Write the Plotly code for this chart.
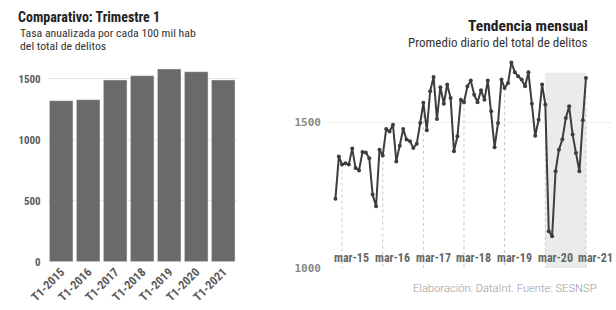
import pandas as pd
import plotly.graph_objects as go

# ---- Data: bar chart (Q1 annualized rate per 100k) ----
bar_categories = ["T1-2015", "T1-2016", "T1-2017", "T1-2018", "T1-2019", "T1-2020", "T1-2021"]
bar_values = [1322, 1330, 1492, 1527, 1582, 1560, 1492]
bar_ticks = [0, 500, 1000, 1500]

# ---- Data: monthly trend (daily average of total crimes) ----
months = pd.date_range("2015-01-01", "2021-03-01", freq="MS")
daily_avg = [
    1238, 1383, 1355, 1360, 1355, 1410, 1343, 1335, 1398, 1397, 1377, 1252,
    1212, 1406, 1386, 1477, 1469, 1492, 1366, 1420, 1477, 1441, 1435, 1412,
    1427, 1498, 1567, 1473, 1607, 1656, 1512, 1621, 1564, 1630, 1584, 1401,
    1452, 1578, 1569, 1624, 1644, 1595, 1569, 1610, 1578, 1644, 1538, 1415,
    1498, 1647, 1618, 1635, 1706, 1672, 1658, 1647, 1624, 1672, 1564, 1454,
    1509, 1630, 1561, 1126, 1109, 1332, 1406, 1441, 1515, 1555, 1458, 1395,
    1332, 1507, 1652,
]
line_ticks = [1000, 1500]
march_labels = ["mar-15", "mar-16", "mar-17", "mar-18", "mar-19", "mar-20", "mar-21"]
shade_start, shade_end, shade_top = "2020-03-01", "2021-03-01", 1670

FONT = "Roboto Condensed, Liberation Sans Narrow, DejaVu Sans Condensed, Roboto, sans-serif"

fig = go.Figure()

fig.add_trace(go.Bar(
    x=bar_categories, y=bar_values, marker_color="#6a6a6a",
    xaxis="x", yaxis="y", showlegend=False,
))

# drop lines at each March
march_idx = [i for i, d in enumerate(months) if d.month == 3]
march_dates = [months[i] for i in march_idx]
dx, dy = [], []
for i in march_idx:
    dx += [months[i], months[i], None]
    dy += [daily_avg[i], line_ticks[0], None]
fig.add_trace(go.Scatter(
    x=dx, y=dy, mode="lines", line=dict(color="#c8c8c8", width=1, dash="dot"),
    xaxis="x2", yaxis="y2", showlegend=False, hoverinfo="skip",
))

fig.add_trace(go.Scatter(
    x=months, y=daily_avg, mode="lines+markers",
    line=dict(color="#3d3d3d", width=2), marker=dict(size=4, color="#3d3d3d"),
    xaxis="x2", yaxis="y2", showlegend=False, cliponaxis=False,
))

fig.add_shape(type="rect", xref="x2", yref="y2", x0=shade_start, x1=shade_end,
              y0=line_ticks[0], y1=shade_top, fillcolor="#ebebeb", line_width=0, layer="below")

fig.update_layout(
    width=616, height=310, margin=dict(l=0, r=0, t=0, b=0, autoexpand=False),
    paper_bgcolor="white", plot_bgcolor="rgba(0,0,0,0)",
    bargap=0.125,
    font=dict(family=FONT, color="#555"),
    xaxis=dict(domain=[0.0774, 0.3843], tickangle=-45, showgrid=False, automargin=False,
               tickfont=dict(size=12, color="#5a5a5a", family=FONT, weight="bold"), ticks=""),
    yaxis=dict(domain=[0.1558, 0.8042], range=[0, 1650], tickvals=bar_ticks, automargin=False,
               gridcolor="#e4e4e4", zeroline=False, ticklabelstandoff=6,
               tickfont=dict(size=11, color="#5a5a5a", family=FONT, weight="bold")),
    xaxis2=dict(domain=[0.5308, 0.9935], range=["2014-10-17", "2021-10-21"], automargin=False,
                anchor="y2", showgrid=False, zeroline=False, showticklabels=False, ticks=""),
    yaxis2=dict(domain=[0.1355, 0.8119], range=[1000, 1720], anchor="x2", automargin=False,
                tickvals=line_ticks, gridcolor="#eeeeee", zeroline=False, ticklabelstandoff=5,
                tickfont=dict(size=11, color="#888", family="DejaVu Sans Mono", weight="bold")),
)

ann = [
    dict(text="<b>Comparativo: Trimestre 1</b>", x=16/616, y=1-17/310, xanchor="left",
         yanchor="middle", font=dict(size=14, color="#222", family=FONT)),
    dict(text="Tasa anualizada por cada 100 mil hab", x=18/616, y=1-33/310, xanchor="left",
         yanchor="middle", font=dict(size=11.8, color="#333", family=FONT)),
    dict(text="del total de delitos", x=18/616, y=1-46/310, xanchor="left",
         yanchor="middle", font=dict(size=11.8, color="#333", family=FONT)),
    dict(text="<b>Tendencia mensual</b>", x=590/616, y=1-26/310, xanchor="right",
         yanchor="middle", font=dict(size=15.5, color="#222", family=FONT)),
    dict(text="Promedio diario del total de delitos", x=590/616, y=1-43/310, xanchor="right",
         yanchor="middle", font=dict(size=13, color="#333", family=FONT)),
    dict(text="Elaboración: DataInt. Fuente: SESNSP", x=599/616, y=1-288/310, xanchor="right",
         yanchor="middle", font=dict(size=11.2, color="#9a9a9a", family="Roboto", weight=300)),
]
for a in ann:
    a.update(xref="paper", yref="paper", showarrow=False)

# x tick labels of the trend chart (sit inside the plot, just right of each March)
for d, lab in zip(march_dates, march_labels):
    ann.append(dict(text=lab, x=d, y=line_ticks[0], xref="x2", yref="y2",
                    xanchor="center", yanchor="bottom", xshift=10, yshift=1, showarrow=False,
                    font=dict(size=12, color="#666", family=FONT, weight="bold")))
fig.update_layout(annotations=ann)

fig.write_html("out.html", config={"displayModeBar": False},
               post_script="document.body.style.margin='0';")
